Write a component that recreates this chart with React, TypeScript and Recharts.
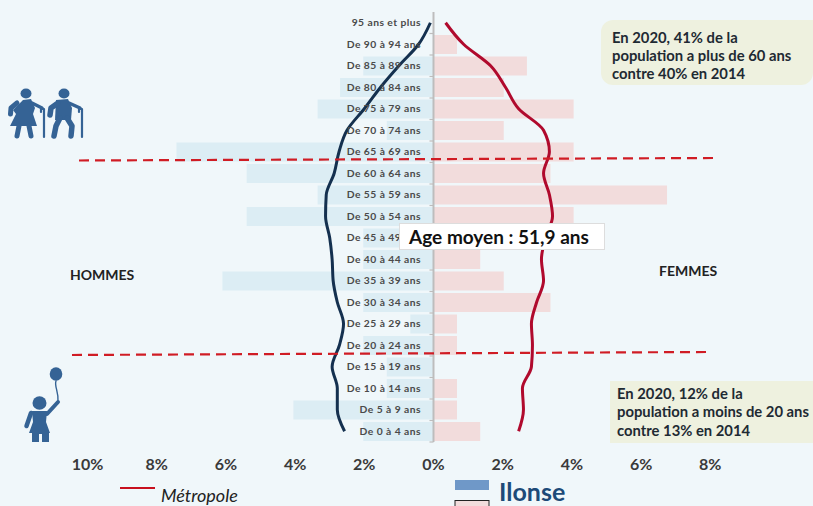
import React from "react";
import { ComposedChart, Bar, Line, XAxis, YAxis, ReferenceLine } from "recharts";

const categories = ["95 ans et plus","De 90 à 94 ans","De 85 à 89 ans","De 80 à 84 ans","De 75 à 79 ans","De 70 à 74 ans","De 65 à 69 ans","De 60 à 64 ans","De 55 à 59 ans","De 50 à 54 ans","De 45 à 49 ans","De 40 à 44 ans","De 35 à 39 ans","De 30 à 34 ans","De 25 à 29 ans","De 20 à 24 ans","De 15 à 19 ans","De 10 à 14 ans","De 5 à 9 ans","De 0 à 4 ans"];
const hommesIlonse = [0,0,-2.03,-2.7,-3.35,-1.35,-7.43,-5.4,-3.35,-5.4,-2.03,-2.03,-6.1,-2.03,-0.67,-2.03,-1.35,-1.35,-4.05,-2.03];
const femmesIlonse = [0,0.68,2.7,2.03,4.05,2.03,4.05,3.38,6.75,4.05,2.7,1.35,2.03,3.38,0.68,0.68,0,0.68,0.68,1.35];
const hommesMetropole = [-0.09,-0.43,-1.0,-1.53,-2.0,-2.5,-2.73,-2.87,-3.1,-3.12,-3.0,-2.93,-2.9,-2.78,-2.6,-2.72,-2.93,-2.78,-2.78,-2.57];
const femmesMetropole = [0.35,0.87,1.65,2.08,2.46,3.18,3.35,3.18,3.35,3.44,3.24,3.12,3.18,2.98,2.83,2.86,2.83,2.57,2.6,2.46];
const xTicks = [-10,-8,-6,-4,-2,0,2,4,6,8];

const data = categories.map((age, i) => ({
  age,
  hommesIlonse: hommesIlonse[i],
  femmesIlonse: femmesIlonse[i],
  hommesMetropole: hommesMetropole[i],
  femmesMetropole: femmesMetropole[i],
}));

const FONT = "Lato, 'Open Sans', sans-serif";
const BG = "#F0F7FA";
const ICON = "#356395";
const ZERO_X = 433.5;
const BAND = 21.5;

function AgeTick(props: any) {
  const { y, payload } = props;
  return (
    <g>
      <line x1={ZERO_X - 4} x2={ZERO_X} y1={y + BAND / 2} y2={y + BAND / 2} stroke="#BDBDBD" strokeWidth={1.2} />
      <text x={ZERO_X - 12.5} y={y + 3.5} textAnchor="end" fontFamily={FONT} fontWeight={700} fontSize={10.3} letterSpacing={0.45} fill="#4A4A4A">
        {payload.value}
      </text>
    </g>
  );
}

function Note({ left, top, width, height, radius, lines, pad, lineTop }: any) {
  return (
    <div style={{ position: "absolute", left, top, width, height, background: "#EEF1DF", borderRadius: radius }}>
      {lines.map((t: string, i: number) => (
        <div key={t} style={{ position: "absolute", left: pad, top: lineTop + i * 18.4, whiteSpace: "nowrap", fontFamily: FONT, fontWeight: 700, fontSize: 14.8, lineHeight: "18px", color: "#1E2A33" }}>{t}</div>
      ))}
    </div>
  );
}

function Person({ x, y, skirt }: { x: number; y: number; skirt: boolean }) {
  return (
    <g transform={`translate(${x},${y})`} fill={ICON} stroke={ICON} strokeLinecap="round" strokeLinejoin="round">
      <ellipse cx={18} cy={5.5} rx={5.5} ry={5} stroke="none" />
      {skirt ? (
        <>
          <path d="M15 12 L23 11 L27 20 L25 26 L29 38 L2 38 L8 26 L5 22 Z" stroke="none" />
          <path d="M9 15 L3 20 L2.5 26" fill="none" strokeWidth={5} />
          <path d="M24 15 L34 20" fill="none" strokeWidth={3.5} />
          <path d="M11 38 L9 48 M21 38 L23 48" fill="none" strokeWidth={5} />
        </>
      ) : (
        <>
          <path d="M10 12 L22 11 L26 20 L25 32 L9 32 Z" stroke="none" />
          <path d="M12 15 L5 20 L4 27" fill="none" strokeWidth={5.5} />
          <path d="M23 15 L34 20" fill="none" strokeWidth={3.5} />
          <path d="M14 30 L10 38 L8 48 M21 30 L26 38 L25 48" fill="none" strokeWidth={5.5} />
        </>
      )}
      <path d="M33 24 L33 21 L36 21 L36 49" fill="none" strokeWidth={2.2} />
    </g>
  );
}

export default function App() {
  return (
    <div style={{ position: "fixed", left: 0, top: 0, width: 813, height: 506, background: BG, overflow: "hidden" }}>
      <ComposedChart
        width={813}
        height={506}
        data={data}
        layout="vertical"
        stackOffset="sign"
        barCategoryGap={1.5}
        margin={{ top: 12, right: 102.7, bottom: 34, left: 86.5 }}
      >
        <XAxis
          type="number"
          domain={[-10, 8]}
          ticks={xTicks}
          axisLine={false}
          tickLine={false}
          interval={0}
          tickMargin={11}
          height={30}
          tickFormatter={(v: number) => `${Math.abs(v)}%`}
          tick={{ fontFamily: FONT, fontWeight: 700, fontSize: 16, fill: "#3A3A3A" }}
        />
        <Bar dataKey="hommesIlonse" stackId="a" fill="#DCEDF4" isAnimationActive={false} />
        <Bar dataKey="femmesIlonse" stackId="a" fill="#F2DCDC" isAnimationActive={false} />
        <ReferenceLine x={0} stroke="#BDBDBD" strokeWidth={2} />
        <YAxis type="category" dataKey="age" width={1} axisLine={false} tickLine={false} interval={0} tick={(p: any) => <AgeTick {...p} />} />
        <Line dataKey="hommesMetropole" type="monotone" stroke="#14304F" strokeWidth={3} dot={false} isAnimationActive={false} />
        <Line dataKey="femmesMetropole" type="monotone" stroke="#B00A2D" strokeWidth={3} dot={false} isAnimationActive={false} />
      </ComposedChart>

      <svg width={813} height={506} style={{ position: "absolute", left: 0, top: 0 }}>
        <line x1={79} y1={160.5} x2={714} y2={158} stroke="#D01C24" strokeWidth={2.2} strokeDasharray="10 6" />
        <line x1={72} y1={355} x2={706} y2={352} stroke="#D01C24" strokeWidth={2.2} strokeDasharray="10 6" />
        <Person x={8} y={88} skirt />
        <Person x={46} y={88} skirt={false} />
        <g fill={ICON} stroke={ICON} strokeLinecap="round" strokeLinejoin="round">
          <ellipse cx={56} cy={374} rx={6.3} ry={6.8} stroke="none" />
          <path d="M56 381 C54 386 59 392 58 402" fill="none" strokeWidth={1.4} />
          <ellipse cx={39.5} cy={403} rx={7} ry={6.8} stroke="none" />
          <path d="M58 402 L47 414" fill="none" strokeWidth={4} />
          <path d="M32 411 L47 411 L46 422 L50 433 L29 433 L33 422 Z" stroke="none" />
          <path d="M31 413 L26.5 426" fill="none" strokeWidth={4.5} />
          <path d="M32 433 L49 433 L49 442 L42 442 L42 434 L39 434 L39 442 L32 442 Z" stroke="none" />
        </g>
        <line x1={120} y1={488} x2={155} y2={488} stroke="#C8101E" strokeWidth={2} />
        <rect x={455} y={480} width={34} height={10} fill="#6F98C8" />
        <rect x={455} y={500.5} width={34} height={10} fill="#F2DCDC" stroke="#222" strokeWidth={1} />
      </svg>

      <div style={{ position: "absolute", left: 161, top: 484, fontFamily: FONT, fontStyle: "italic", fontSize: 18, lineHeight: "22px", color: "#222" }}>Métropole</div>
      <div style={{ position: "absolute", left: 499, top: 476, fontFamily: FONT, fontWeight: 700, fontSize: 25, lineHeight: "30px", color: "#1D4A78" }}>Ilonse</div>
      <div style={{ position: "absolute", left: 70, top: 267, fontFamily: FONT, fontWeight: 700, fontSize: 14, lineHeight: "16px", color: "#222" }}>HOMMES</div>
      <div style={{ position: "absolute", left: 659, top: 263, fontFamily: FONT, fontWeight: 700, fontSize: 14, lineHeight: "16px", color: "#222" }}>FEMMES</div>
      <div style={{ position: "absolute", left: 399, top: 223, width: 198, paddingRight: 6, height: 25, background: "#fff", border: "1px solid #DDD", textAlign: "center", fontFamily: FONT, fontWeight: 700, fontSize: 19, lineHeight: "25px", color: "#111", whiteSpace: "nowrap" }}>Age moyen : 51,9 ans</div>
      <Note left={601} top={20} width={212} height={65} radius="12px 0 12px 12px" pad={11} lineTop={7.5} lines={["En 2020, 41% de la", "population a plus de 60 ans", "contre 40% en 2014"]} />
      <Note left={610} top={381} width={203} height={62} radius={0} pad={7} lineTop={3} lines={["En 2020, 12% de la", "population a moins de 20 ans", "contre 13% en 2014"]} />
    </div>
  );
}
